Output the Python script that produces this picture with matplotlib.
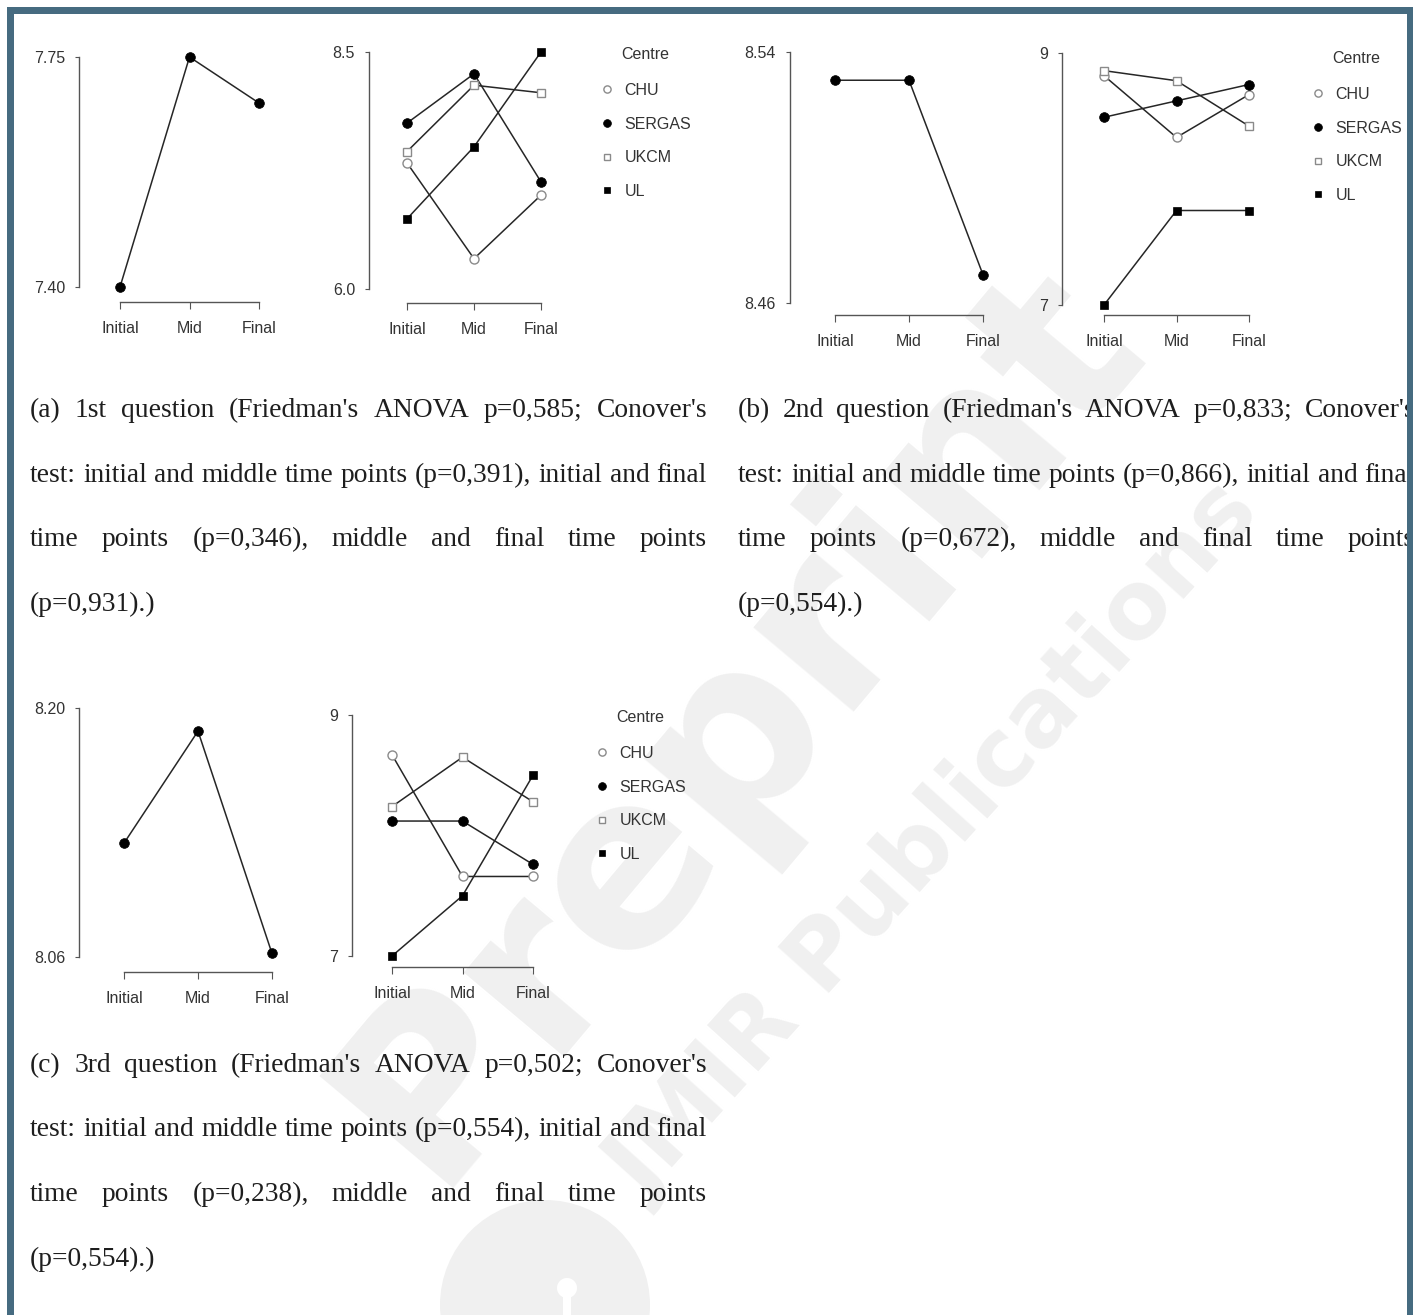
import numpy as np
import matplotlib.pyplot as plt
from matplotlib.lines import Line2D
from matplotlib.patches import Rectangle, Circle

plt.rcParams['font.family'] = ['Liberation Sans Narrow', 'Liberation Sans', 'DejaVu Sans']

W, H = 1416, 1315

times = ['Initial', 'Mid', 'Final']
centres = ['CHU', 'SERGAS', 'UKCM', 'UL']

# (a) 1st question
q1_mean = [7.40, 7.75, 7.68]
q1_chu = [7.33, 6.32, 6.99]
q1_sergas = [7.75, 8.27, 7.13]
q1_ukcm = [7.45, 8.15, 8.07]
q1_ul = [6.74, 7.50, 8.50]

# (b) 2nd question
q2_mean = [8.531, 8.531, 8.469]
q2_chu = [8.82, 8.33, 8.67]
q2_sergas = [8.49, 8.62, 8.75]
q2_ukcm = [8.86, 8.78, 8.42]
q2_ul = [7.00, 7.75, 7.75]

# (c) 3rd question
q3_mean = [8.124, 8.187, 8.062]
q3_chu = [8.67, 7.66, 7.66]
q3_sergas = [8.12, 8.12, 7.76]
q3_ukcm = [8.24, 8.65, 8.28]
q3_ul = [7.00, 7.50, 8.50]

mean_ticks = [['7.40', '7.75'], ['8.46', '8.54'], ['8.06', '8.20']]
centre_ticks = [['6.0', '8.5'], ['7', '9'], ['7', '9']]

cap_a = ["(a) 1st question (Friedman's ANOVA p=0,585; Conover's",
         "test: initial and middle time points (p=0,391), initial and final",
         "time points (p=0,346), middle and final time points",
         "(p=0,931).)"]
cap_b = ["(b) 2nd question (Friedman's ANOVA p=0,833; Conover's",
         "test: initial and middle time points (p=0,866), initial and final",
         "time points (p=0,672), middle and final time points",
         "(p=0,554).)"]
cap_c = ["(c) 3rd question (Friedman's ANOVA p=0,502; Conover's",
         "test: initial and middle time points (p=0,554), initial and final",
         "time points (p=0,238), middle and final time points",
         "(p=0,554).)"]

ink = '#262626'
style = {
    'CHU': dict(marker='o', ms=6.5, mfc='white', mec='#8a8a8a', mew=1.0),
    'SERGAS': dict(marker='o', ms=7, mfc='black', mec='black', mew=0.5),
    'UKCM': dict(marker='s', ms=6, mfc='white', mec='#8a8a8a', mew=1.0),
    'UL': dict(marker='s', ms=6, mfc='black', mec='black', mew=0.5),
}

fig = plt.figure(figsize=(W / 100, H / 100), dpi=100)

# background layer: watermark + captions, in pixel coords
bg = fig.add_axes([0, 0, 1, 1], zorder=-1)
bg.set_xlim(0, W)
bg.set_ylim(H, 0)
bg.axis('off')

wm = '#f0f0f0'
bg.text(738, 722, 'Preprint', rotation=50, rotation_mode='anchor', ha='center', va='center',
        fontsize=172, fontweight='bold', color=wm, family='DejaVu Sans')
bg.text(935, 842, 'JMIR Publications', rotation=48, rotation_mode='anchor', ha='center',
        va='center', fontsize=68, fontweight='bold', color=wm, family='DejaVu Sans')
bg.add_patch(Circle((545, 1305), 105, color=wm, lw=0))
bg.add_patch(Circle((567, 1288), 10, color='white', lw=0))
bg.add_patch(Rectangle((563, 1288), 8, 30, color='white', lw=0))


def px_axes(yaxis_x, xaxis_y, xs_px, yt_px, yt_vals, labels):
    x0, x2 = xs_px
    ylo_px, yhi_px = yt_px
    left, right = yaxis_x, x2 + 25
    top, bottom = yhi_px - 12, xaxis_y
    ax = fig.add_axes([left / W, 1 - bottom / H, (right - left) / W, (bottom - top) / H])
    ax.set_facecolor('none')
    sx = (x2 - x0) / 2.0
    ax.set_xlim(-(x0 - left) / sx, 2 + (right - x2) / sx)
    lo, hi = yt_vals
    sy = (ylo_px - yhi_px) / (hi - lo)
    ax.set_ylim(lo - (bottom - ylo_px) / sy, hi + (yhi_px - top) / sy)
    for s in ['top', 'right']:
        ax.spines[s].set_visible(False)
    ax.spines['left'].set_bounds(lo, hi)
    ax.spines['bottom'].set_bounds(0, 2)
    for s in ['left', 'bottom']:
        ax.spines[s].set_color('#555555')
        ax.spines[s].set_linewidth(1.0)
    ax.set_xticks(range(3))
    ax.set_xticklabels(times)
    ax.set_yticks([lo, hi])
    ax.set_yticklabels(labels)
    ax.tick_params(axis='y', length=3, width=0.8, pad=7, labelsize=11.5, colors='#555555',
                   labelcolor='#333333')
    ax.tick_params(axis='x', length=5, width=0.8, pad=9, labelsize=11.5, colors='#555555',
                   labelcolor='#333333')
    return ax


def mean_panel(ax, vals):
    ax.plot(range(3), vals, color=ink, lw=1.1, clip_on=False, **style['SERGAS'])


def centre_panel(ax, series, anchor):
    for c, v in zip(centres, series):
        ax.plot(range(3), v, color=ink, lw=1.1, clip_on=False, **style[c])
    handles = [Line2D([], [], ls='none', **style[c]) for c in centres]
    leg = ax.legend(handles, centres, title='Centre', loc='upper left',
                    bbox_to_anchor=(anchor[0] / W, 1 - anchor[1] / H),
                    bbox_transform=fig.transFigure, frameon=False, fontsize=11.5,
                    title_fontsize=11.5, handlelength=1.0, handletextpad=0.6,
                    labelspacing=1.17, borderpad=0, borderaxespad=0, markerscale=0.8)
    leg._legend_box.sep = 15
    for t in leg.get_texts():
        t.set_color('#333333')
    leg.get_title().set_color('#333333')


# panel (a)
ax = px_axes(79, 302, (120, 259), (287, 57), (7.40, 7.75), mean_ticks[0])
mean_panel(ax, q1_mean)
ax = px_axes(369, 303, (407, 541), (289, 52), (6.0, 8.5), centre_ticks[0])
centre_panel(ax, [q1_chu, q1_sergas, q1_ukcm, q1_ul], (599, 47))

# panel (b)
ax = px_axes(790, 315, (835, 983), (303, 52), (8.46, 8.54), mean_ticks[1])
mean_panel(ax, q2_mean)
ax = px_axes(1062, 315, (1104, 1249), (305, 53), (7, 9), centre_ticks[1])
centre_panel(ax, [q2_chu, q2_sergas, q2_ukcm, q2_ul], (1310, 51))

# panel (c)
ax = px_axes(79, 972, (124, 272), (957, 708), (8.06, 8.20), mean_ticks[2])
mean_panel(ax, q3_mean)
ax = px_axes(352, 967, (392, 533), (956, 715), (7, 9), centre_ticks[2])
centre_panel(ax, [q3_chu, q3_sergas, q3_ukcm, q3_ul], (594, 710))

# captions, justified like the source document
renderer = fig.canvas.get_renderer()
COL_W = 677

# pick the size at which the unstretched second line fills the column
probe = bg.text(0, 0, cap_a[1], fontsize=20, family='Liberation Serif')
cap_fs = 20 * COL_W / probe.get_window_extent(renderer).width
probe.remove()


def caption(lines, x0, y0, width=COL_W, step=64.5):
    for i, line in enumerate(lines):
        words = line.split(' ')
        y = y0 + i * step + 7
        arts = [bg.text(0, y, w, fontsize=cap_fs, family='Liberation Serif', color='#1e1e1e',
                        va='baseline', ha='left') for w in words]
        widths = [a.get_window_extent(renderer).width for a in arts]
        if i < len(lines) - 1 and len(words) > 1:
            gap = (width - sum(widths)) / (len(words) - 1)
        else:
            gap = cap_fs * 0.25 * 100 / 72
        x = x0
        for a, wd in zip(arts, widths):
            a.set_x(x)
            x += wd + gap


caption(cap_a, 30, 410)
caption(cap_b, 738, 410)
caption(cap_c, 30, 1065)

# frame on top
top = fig.add_axes([0, 0, 1, 1], zorder=20)
top.set_xlim(0, W)
top.set_ylim(H, 0)
top.axis('off')
frame = '#466b80'
top.add_patch(Rectangle((1413, 0), 3, H, color='white', lw=0))
top.add_patch(Rectangle((7, 7), 1406, 7, color=frame, lw=0))
top.add_patch(Rectangle((7, 7), 7, H, color=frame, lw=0))
top.add_patch(Rectangle((1407, 7), 6, H, color=frame, lw=0))

fig.savefig('out.png', dpi=100)
